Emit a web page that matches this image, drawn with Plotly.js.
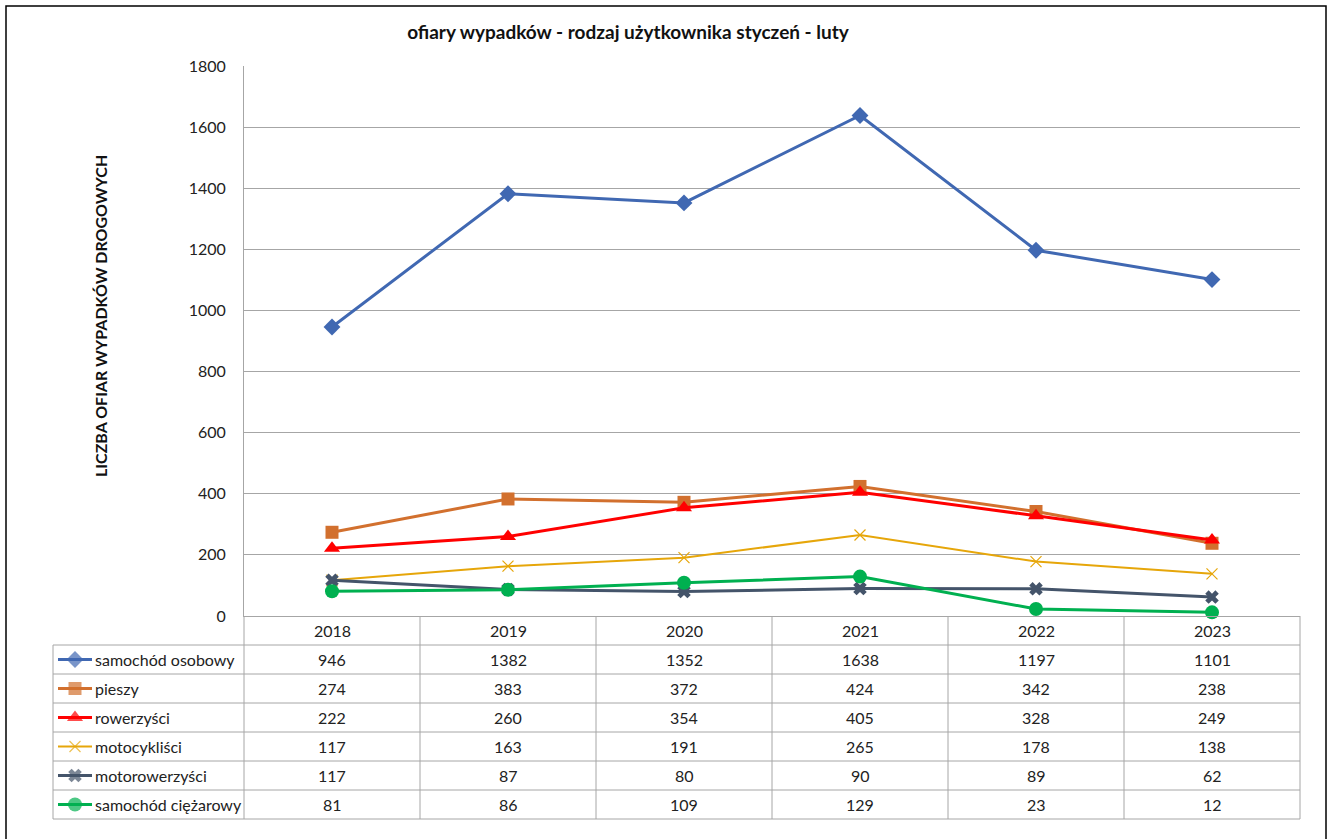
<!DOCTYPE html>
<html>
<head>
<meta charset="utf-8">
<script src="https://cdn.plot.ly/plotly-3.0.1.min.js"></script>
<style>html,body{margin:0;padding:0;background:#fff;}#chart{width:1333px;height:839px;}</style>
</head>
<body>
<div id="chart"></div>
<script>
// ---- data ----
const years = ["2018", "2019", "2020", "2021", "2022", "2023"];
const seriesNames = ["samochód osobowy", "pieszy", "rowerzyści", "motocykliści", "motorowerzyści", "samochód ciężarowy"];
const samochodOsobowy = [946, 1382, 1352, 1638, 1197, 1101];
const pieszy = [274, 383, 372, 424, 342, 238];
const rowerzysci = [222, 260, 354, 405, 328, 249];
const motocyklisci = [117, 163, 191, 265, 178, 138];
const motorowerzysci = [117, 87, 80, 90, 89, 62];
const samochodCiezarowy = [81, 86, 109, 129, 23, 12];
const seriesValues = [samochodOsobowy, pieszy, rowerzysci, motocyklisci, motorowerzysci, samochodCiezarowy];
const yTicks = [0, 200, 400, 600, 800, 1000, 1200, 1400, 1600, 1800];

// ---- styles ----
const W = 1333, H = 839;
const FONT = "Lato, 'Open Sans', sans-serif";
const styles = [
  {color: "#4068B2", symbol: "diamond", size: 13, width: 3},
  {color: "#D2702E", symbol: "square", size: 13, width: 3},
  {color: "#FF0000", symbol: "triangle-up", size: 14, width: 3},
  {color: "#E6A60A", symbol: "x-thin-open", size: 11, width: 2},
  {color: "#44546A", symbol: "x", size: 12, width: 3},
  {color: "#00B050", symbol: "circle", size: 14, width: 3}
];
const px = v => v / W;
const py = v => 1 - v / H;

const plotL = 244, plotR = 1300, plotT = 66, plotB = 616;
const tableL = 53, rowH = 29, headerB = 645;
const gridCol = "#A6A6A6";

const traces = [];
seriesValues.forEach((vals, i) => {
  const s = styles[i];
  traces.push({
    type: "scatter", mode: "lines+markers", x: years, y: vals, name: seriesNames[i],
    line: {color: s.color, width: s.width},
    marker: {symbol: s.symbol, size: s.size, color: s.color, line: {color: s.color, width: s.symbol === "x-thin-open" ? 1.2 : 0}},
    xaxis: "x", yaxis: "y", cliponaxis: false
  });
});

// legend keys in the table (pixel axes covering the page)
seriesNames.forEach((n, i) => {
  const s = styles[i];
  const cy = headerB + rowH * i + rowH / 2;
  traces.push({
    type: "scatter", mode: "lines+markers", x: [58, 75, 92], y: [cy, cy, cy],
    line: {color: s.color, width: s.width},
    marker: {symbol: s.symbol, size: [0, s.size, 0], color: s.color, line: {color: s.color, width: s.symbol === "x-thin-open" ? 1.2 : 0}},
    xaxis: "x2", yaxis: "y2", showlegend: false, cliponaxis: false
  });
});

const shapes = [];
const annotations = [];
// outer chart border
shapes.push({type: "rect", xref: "paper", yref: "paper", x0: px(6), x1: px(1326), y0: py(846), y1: py(6), line: {color: "#000", width: 1.5}});

// table vertical lines at category boundaries
const catW = (plotR - plotL) / years.length;
for (let k = 0; k <= years.length; k++) {
  const x = plotL + k * catW;
  shapes.push({type: "line", xref: "paper", yref: "paper", x0: px(x), x1: px(x), y0: py(plotB), y1: py(headerB + rowH * seriesNames.length), line: {color: gridCol, width: 1}});
}
// legend column left line
shapes.push({type: "line", xref: "paper", yref: "paper", x0: px(tableL), x1: px(tableL), y0: py(headerB), y1: py(headerB + rowH * seriesNames.length), line: {color: gridCol, width: 1}});
// horizontal rows
for (let r = 0; r <= seriesNames.length; r++) {
  const y = headerB + rowH * r;
  shapes.push({type: "line", xref: "paper", yref: "paper", x0: px(tableL), x1: px(plotR), y0: py(y), y1: py(y), line: {color: gridCol, width: 1}});
}

const cellFont = {family: FONT, size: 16, color: "#222"};
// header years
years.forEach((yr, j) => {
  annotations.push({xref: "paper", yref: "paper", x: px(plotL + (j + 0.5) * catW), y: py((plotB + headerB) / 2), text: yr, showarrow: false, font: cellFont, xanchor: "center", yanchor: "middle"});
});
// cell values and series labels
seriesValues.forEach((vals, i) => {
  const cy = headerB + rowH * i + rowH / 2;
  annotations.push({xref: "paper", yref: "paper", x: px(93), y: py(cy), text: seriesNames[i], showarrow: false, font: cellFont, xanchor: "left", yanchor: "middle"});
  vals.forEach((v, j) => {
    annotations.push({xref: "paper", yref: "paper", x: px(plotL + (j + 0.5) * catW), y: py(cy), text: String(v), showarrow: false, font: cellFont, xanchor: "center", yanchor: "middle"});
  });
});
// y axis title
annotations.push({xref: "paper", yref: "paper", x: px(101), y: py(316), text: "<b>LICZBA OFIAR WYPADKÓW DROGOWYCH</b>", textangle: -90, showarrow: false, font: {family: FONT, size: 16, color: "#111"}, xanchor: "center", yanchor: "middle"});

const layout = {
  width: W, height: H,
  margin: {l: 0, r: 0, t: 0, b: 0},
  paper_bgcolor: "#fff", plot_bgcolor: "rgba(0,0,0,0)",
  showlegend: false,
  title: {text: "<b>ofiary wypadków - rodzaj użytkownika styczeń - luty</b>", x: 628 / W, xanchor: "center", y: py(32), yanchor: "middle", font: {family: FONT, size: 19, color: "#111"}},
  xaxis: {domain: [px(plotL), px(plotR)], anchor: "y", type: "category", range: [-0.5, years.length - 0.5], showticklabels: false, showgrid: false, zeroline: false, showline: true, linecolor: gridCol, linewidth: 1, ticks: "", fixedrange: true},
  yaxis: {domain: [py(plotB), py(plotT)], anchor: "x", range: [0, 1800], tickvals: yTicks, ticktext: yTicks.map(String), showgrid: true, gridcolor: gridCol, gridwidth: 1, zeroline: false, showline: true, linecolor: gridCol, linewidth: 1, ticks: "", ticklabelstandoff: 14, tickfont: {family: FONT, size: 16, color: "#222"}, fixedrange: true},
  xaxis2: {domain: [0, 1], anchor: "y2", range: [0, W], visible: false, fixedrange: true},
  yaxis2: {domain: [0, 1], anchor: "x2", range: [H, 0], visible: false, fixedrange: true},
  shapes: shapes,
  annotations: annotations
};

Plotly.newPlot("chart", traces, layout, {displayModeBar: false, staticPlot: true});
</script>
</body>
</html>
